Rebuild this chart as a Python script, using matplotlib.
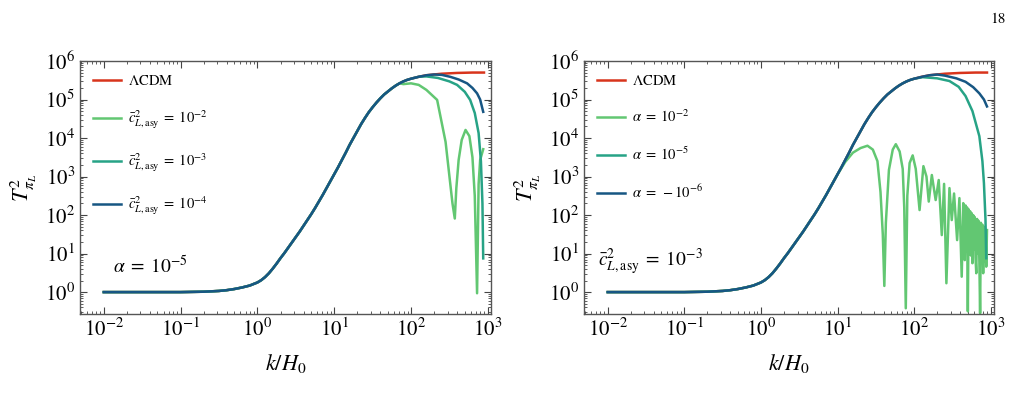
import numpy as np
import matplotlib
matplotlib.use("Agg")
import matplotlib.pyplot as plt
from matplotlib.ticker import LogLocator, NullFormatter

plt.rcParams['font.family'] = 'STIXGeneral'
plt.rcParams['mathtext.fontset'] = 'stix'

common_logk = [-2.0, -1.0, -0.7, -0.5, -0.4, -0.3, -0.2, -0.1, -0.05, 0.0, 0.05, 0.1, 0.15, 0.2,
               0.25, 0.3, 0.35, 0.4, 0.45, 0.5, 0.55, 0.6, 0.65, 0.7, 0.75, 0.8, 0.85, 0.9,
               0.95, 1.0, 1.05, 1.1, 1.15, 1.2, 1.25, 1.3, 1.35, 1.4, 1.45, 1.5, 1.55, 1.6,
               1.65, 1.7, 1.75, 1.8, 1.85, 1.9, 1.95, 2.0, 2.1, 2.2, 2.3, 2.4, 2.6, 2.8, 2.95]
common_logT = [0.0, 0.0, 0.01, 0.03, 0.05, 0.08, 0.12, 0.17, 0.21, 0.25, 0.31, 0.39, 0.49, 0.61,
               0.74, 0.88, 1.01, 1.15, 1.29, 1.43, 1.57, 1.72, 1.87, 2.02, 2.18, 2.35, 2.52, 2.70,
               2.88, 3.06, 3.24, 3.43, 3.62, 3.82, 4.00, 4.18, 4.36, 4.52, 4.67, 4.80, 4.92, 5.03,
               5.13, 5.21, 5.29, 5.36, 5.42, 5.47, 5.51, 5.54, 5.59, 5.63, 5.65, 5.67, 5.69, 5.70,
               5.70]

# linkes Panel, alpha = 1e-5
left_c2_k = [1.9, 2.0, 2.1, 2.2, 2.34, 2.45, 2.51, 2.54, 2.57, 2.59, 2.62, 2.66, 2.71, 2.76,
             2.80, 2.83, 2.86, 2.88, 2.90, 2.94]
left_c2_T = [5.40, 5.42, 5.38, 5.25, 4.99, 3.90, 2.83, 2.30, 1.91, 2.70, 3.43, 3.95, 4.21, 4.05,
             3.50, 2.50, -0.03, 2.80, 3.43, 3.71]
left_c3_k = [2.2, 2.35, 2.5, 2.6, 2.7, 2.77, 2.83, 2.88, 2.91, 2.93, 2.94]
left_c3_T = [5.60, 5.56, 5.47, 5.38, 5.20, 4.99, 4.65, 4.13, 3.40, 2.30, 0.875]
left_c4_k = [2.4, 2.51, 2.62, 2.73, 2.8, 2.86, 2.9, 2.94]
left_c4_T = [5.64, 5.59, 5.52, 5.42, 5.30, 5.16, 5.00, 4.68]

# rechtes Panel, c_L,asy^2 = 1e-3
right_a2_k = [1.0, 1.1, 1.2, 1.3, 1.39, 1.46, 1.52, 1.56, 1.59, 1.61, 1.63, 1.67, 1.72, 1.76,
              1.81, 1.85, 1.87, 1.89, 1.91, 1.94, 1.98, 2.02, 2.07, 2.12, 2.16, 2.19, 2.23,
              2.28, 2.32, 2.36, 2.39, 2.42, 2.46, 2.49, 2.52, 2.56, 2.59, 2.62, 2.64, 2.65,
              2.66, 2.67, 2.68, 2.69, 2.70, 2.71, 2.72, 2.73, 2.74, 2.75, 2.76, 2.77, 2.78,
              2.79, 2.80, 2.81, 2.82, 2.83, 2.84, 2.85, 2.86, 2.87, 2.88, 2.89, 2.90, 2.91,
              2.92, 2.93, 2.94, 2.95]
right_a2_T = [3.06, 3.38, 3.62, 3.74, 3.80, 3.70, 3.40, 2.60, 1.50, 0.16, 1.80, 3.17, 3.70, 3.84,
              3.65, 3.20, 2.20, -0.42, 2.50, 3.35, 3.55, 3.20, 2.13, 3.27, 3.00, 2.35, 3.04,
              2.39, 2.91, 1.48, 2.81, 0.23, 2.70, 1.87, 2.56, 1.35, 2.44, 0.40, 2.31, 1.10,
              0.83, 2.25, 1.05, 2.20, -0.50, 2.15, 1.00, 2.10, 0.95, 2.05, 0.75, 2.00, 1.10,
              1.95, 0.90, 0.49, 1.90, 1.00, 1.85, 0.85, -0.55, 1.80, 0.95, 1.75, 0.49, 1.70,
              0.80, 1.61, 0.66, 1.61]
right_a5_k = [2.0, 2.11, 2.3, 2.46, 2.58, 2.67, 2.76, 2.85, 2.89, 2.91, 2.93, 2.94]
right_a5_T = [5.54, 5.58, 5.55, 5.48, 5.33, 5.09, 4.70, 4.05, 3.40, 2.83, 1.90, 0.88]
right_a6_k = [2.3, 2.4, 2.55, 2.67, 2.77, 2.85, 2.91, 2.95]
right_a6_T = [5.65, 5.62, 5.55, 5.46, 5.32, 5.16, 5.00, 4.82]

red = '#d8341c'
green = '#62c772'
teal = '#27a386'
blue = '#175683'


def join(base_k, base_T, tail_k, tail_T):
    k = [x for x in base_k if x < tail_k[0]] + tail_k
    T = [base_T[i] for i in range(len(base_k)) if base_k[i] < tail_k[0]] + tail_T
    return 10.0 ** np.array(k), 10.0 ** np.array(T)


fig = plt.figure(figsize=(10.21, 4.05), dpi=100)
ax1 = fig.add_axes([80/1021, 1-314/405, 411/1021, 253/405])
ax2 = fig.add_axes([584/1021, 1-314/405, 410/1021, 253/405])

panels = [
    (ax1, [(left_c2_k, left_c2_T, green, r'$\bar{c}^2_{L,\mathrm{asy}}\;=\;10^{-2}$'),
           (left_c3_k, left_c3_T, teal, r'$\bar{c}^2_{L,\mathrm{asy}}\;=\;10^{-3}$'),
           (left_c4_k, left_c4_T, blue, r'$\bar{c}^2_{L,\mathrm{asy}}\;=\;10^{-4}$')],
     r'$\alpha\;=\;10^{-5}$', 0.08),
    (ax2, [(right_a2_k, right_a2_T, green, r'$\alpha\;=\;10^{-2}$'),
           (right_a5_k, right_a5_T, teal, r'$\alpha\;=\;10^{-5}$'),
           (right_a6_k, right_a6_T, blue, r'$\alpha\;=\;-10^{-6}$')],
     r'$\bar{c}^2_{L,\mathrm{asy}}\;=\;10^{-3}$', 0.035),
]

for ax, series, note, nx in panels:
    ax.plot(10.0 ** np.array(common_logk), 10.0 ** np.array(common_logT), color=red, lw=1.8,
            label=r'$\Lambda\mathrm{CDM}$')
    for tk, tT, col, lab in series:
        k, T = join(common_logk, common_logT, tk, tT)
        ax.plot(k, T, color=col, lw=1.8, label=lab)
    ax.set_xscale('log')
    ax.set_yscale('log')
    ax.set_xlim(0.0049, 1100)
    ax.set_ylim(0.27, 1e6)
    ax.xaxis.set_major_locator(LogLocator(base=10, numticks=20))
    ax.yaxis.set_major_locator(LogLocator(base=10, numticks=20))
    ax.xaxis.set_minor_locator(LogLocator(base=10, subs=np.arange(2, 10), numticks=100))
    ax.yaxis.set_minor_locator(LogLocator(base=10, subs=np.arange(2, 10), numticks=100))
    ax.xaxis.set_minor_formatter(NullFormatter())
    ax.yaxis.set_minor_formatter(NullFormatter())
    ax.tick_params(which='both', direction='in', top=True, right=True, labelsize=15,
                   color='#444444')
    ax.tick_params(which='major', length=5, width=0.8)
    ax.tick_params(which='minor', length=2.5, width=0.6)
    for s in ax.spines.values():
        s.set_color('#555555')
        s.set_linewidth(1.0)
    ax.set_xlabel(r'$k/H_0$', fontsize=16, labelpad=8)
    ax.set_ylabel(r'$T^2_{\pi_L}$', fontsize=16, labelpad=4)
    ax.legend(loc='upper left', frameon=False, fontsize=10.5, handlelength=1.9,
              handletextpad=0.5, labelspacing=1.4, borderaxespad=0.5)
    ax.text(nx, 0.145, note, transform=ax.transAxes, fontsize=14, ha='left', va='bottom')

fig.text(0.985, 0.97, '18', ha='right', va='top', fontsize=11)

plt.savefig('out.png', dpi=100)
